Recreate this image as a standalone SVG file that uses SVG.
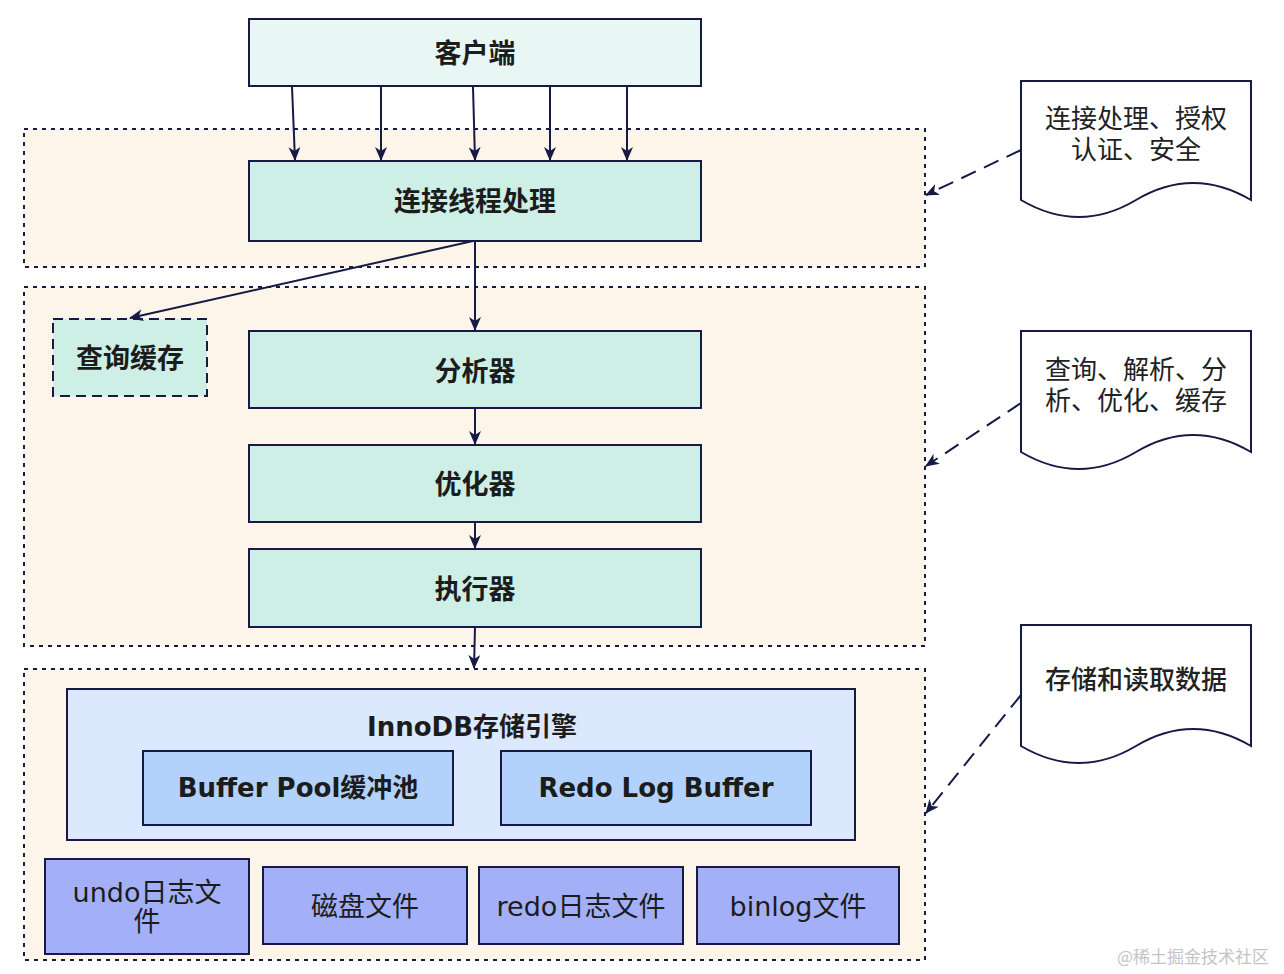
<svg xmlns="http://www.w3.org/2000/svg" width="1284" height="974" viewBox="0 0 1284 974">
<defs>
<style>
.bg{fill:#ffffff}
.zone{fill:#fdf5ea;stroke:#161a45;stroke-width:2;stroke-dasharray:4 5}
.node{fill:#cdefe6;stroke:#161a45;stroke-width:2}
.client{fill:#e8f7f3;stroke:#161a45;stroke-width:2}
.cache{fill:#cdefe6;stroke:#161a45;stroke-width:2;stroke-dasharray:10 6}
.engine{fill:#dce8fd;stroke:#161a45;stroke-width:2}
.buf{fill:#b3d2fb;stroke:#161a45;stroke-width:2}
.file{fill:#a3b0f8;stroke:#161a45;stroke-width:2}
.note{fill:#ffffff;stroke:#161a45;stroke-width:2}
.t{font-family:"DejaVu Sans","Noto Sans CJK SC",sans-serif;fill:#1c1c1c;text-anchor:middle;dominant-baseline:central}
.b{font-weight:bold;font-size:26px}
.bc{font-weight:bold;font-size:27px}
.r{font-weight:normal;font-size:27px}
.nt{font-family:"Noto Sans CJK SC",sans-serif;fill:#222;text-anchor:middle;dominant-baseline:central;font-size:26px}
.line{fill:none;stroke:#161a45;stroke-width:2}
.dash{fill:none;stroke:#161a45;stroke-width:2;stroke-dasharray:16 9}
.wm{font-family:"Noto Sans CJK SC",sans-serif;fill:#c4c4c4;font-size:17px}
</style>
<marker id="ah" viewBox="0 0 14 12" refX="13" refY="6" markerWidth="14" markerHeight="12" markerUnits="userSpaceOnUse" orient="auto">
<path d="M0,0 L14,6 L0,12 L4,6 Z" fill="#161a45"/>
</marker>
</defs>
<rect class="bg" x="0" y="0" width="1284" height="974"/>

<g id="zones">
<rect id="zone-connect" class="zone" x="24" y="129" width="901" height="138"/>
<rect id="zone-service" class="zone" x="24" y="287" width="901" height="359"/>
<rect id="zone-storage" class="zone" x="24" y="669" width="901" height="291"/>
</g>

<g id="client">
<rect class="client" x="249" y="19" width="452" height="67"/>
<text class="t bc" x="475" y="53">客户端</text>
</g>
<g id="conn">
<rect class="node" x="249" y="161" width="452" height="80"/>
<text class="t bc" x="475" y="201">连接线程处理</text>
</g>
<g id="qcache">
<rect class="cache" x="53" y="319" width="154" height="77"/>
<text class="t bc" x="130" y="358">查询缓存</text>
</g>
<g id="parser">
<rect class="node" x="249" y="331" width="452" height="77"/>
<text class="t bc" x="475" y="371">分析器</text>
</g>
<g id="optimizer">
<rect class="node" x="249" y="445" width="452" height="77"/>
<text class="t bc" x="475" y="484">优化器</text>
</g>
<g id="executor">
<rect class="node" x="249" y="549" width="452" height="78"/>
<text class="t bc" x="475" y="589">执行器</text>
</g>
<g id="innodb">
<rect class="engine" x="67" y="689" width="788" height="151"/>
<text class="t b" x="472" y="727">InnoDB存储引擎</text>
</g>
<g id="bufferpool">
<rect class="buf" x="143" y="751" width="310" height="74"/>
<text class="t b" x="298" y="788">Buffer Pool缓冲池</text>
</g>
<g id="redobuf">
<rect class="buf" x="501" y="751" width="310" height="74"/>
<text class="t b" x="656" y="788">Redo Log Buffer</text>
</g>
<g id="undo">
<rect class="file" x="45" y="859" width="204" height="95"/>
<text class="t r" x="147" y="892">undo日志文</text>
<text class="t r" x="147" y="921">件</text>
</g>
<g id="disk">
<rect class="file" x="263" y="867" width="204" height="77"/>
<text class="t r" x="365" y="906">磁盘文件</text>
</g>
<g id="redolog">
<rect class="file" x="479" y="867" width="204" height="77"/>
<text class="t r" x="581" y="906">redo日志文件</text>
</g>
<g id="binlog">
<rect class="file" x="697" y="867" width="202" height="77"/>
<text class="t r" x="798" y="906">binlog文件</text>
</g>

<g id="note1">
<path class="note" d="M1021,81 H1251 V200 Q1193,166 1136,200 Q1079,234 1021,200 Z"/>
<text class="nt" x="1136" y="116">连接处理、授权</text>
<text class="nt" x="1136" y="147">认证、安全</text>
</g>
<g id="note2">
<path class="note" d="M1021,331 H1251 V452 Q1193,418 1136,452 Q1079,486 1021,452 Z"/>
<text class="nt" x="1136" y="367">查询、解析、分</text>
<text class="nt" x="1136" y="398">析、优化、缓存</text>
</g>
<g id="note3">
<path class="note" d="M1021,625 H1251 V746 Q1193,712 1136,746 Q1079,780 1021,746 Z"/>
<text class="nt" x="1136" y="677" font-weight="500">存储和读取数据</text>
</g>

<g id="connectors">
<path class="line" marker-end="url(#ah)" d="M292,87 L295,160"/>
<path class="line" marker-end="url(#ah)" d="M381,87 L381,160"/>
<path class="line" marker-end="url(#ah)" d="M473,87 L475,160"/>
<path class="line" marker-end="url(#ah)" d="M550,87 L550,160"/>
<path class="line" marker-end="url(#ah)" d="M627,87 L627,160"/>
<path class="line" marker-end="url(#ah)" d="M473,241 L130,318"/>
<path class="line" marker-end="url(#ah)" d="M475,241 L475,330"/>
<path class="line" marker-end="url(#ah)" d="M475,408 L475,444"/>
<path class="line" marker-end="url(#ah)" d="M475,522 L475,548"/>
<path class="line" marker-end="url(#ah)" d="M475,627 L474,668"/>
<path class="dash" marker-end="url(#ah)" d="M1021,150 L926,195"/>
<path class="dash" marker-end="url(#ah)" d="M1021,403 L926,466"/>
<path class="dash" marker-end="url(#ah)" d="M1021,695 L926,813"/>
</g>

<text class="wm" x="1117" y="963">@稀土掘金技术社区</text>
</svg>
